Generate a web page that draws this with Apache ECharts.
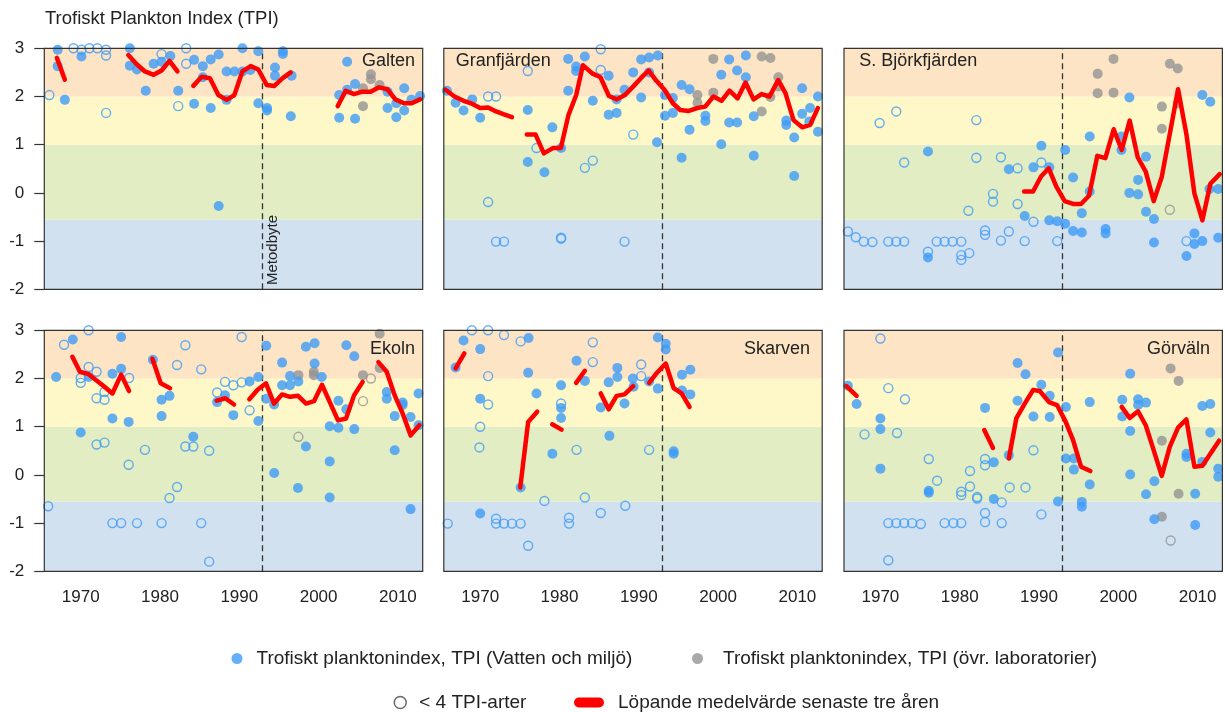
<!DOCTYPE html>
<html><head><meta charset="utf-8">
<script src="https://cdn.jsdelivr.net/npm/echarts@6/dist/echarts.min.js"></script>
<style>html,body{margin:0;padding:0;background:#fff}#c{width:1225px;height:712px}</style>
</head><body><div id="c"></div>
<script>
// ---------- tick labels / thresholds ----------
const tickYears = [1966,1971,1976,1981,1986,1991,1996,2001,2006,2011];
const labelYears = [1970,1980,1990,2000,2010];
const bandLimits = [-2,-0.55,1,2,3];
const metodbyteYear = 1992.95;

// ---------- Galten ----------
const galtenBlue = [[1967.1,2.97],[1967.1,2.63],[1968.0,1.93],[1970.1,2.83],[1976.2,3.0],[1976.2,2.64],[1977.1,2.56],[1978.2,2.12],[1979.2,2.68],[1980.2,2.72],[1981.3,2.84],[1982.3,2.12],[1984.3,2.76],[1984.3,1.85],[1985.4,2.63],[1985.4,2.40],[1986.4,2.77],[1986.4,1.76],[1987.4,2.87],[1987.4,-0.27],[1988.4,2.52],[1988.4,1.93],[1989.4,2.52],[1990.4,3.0],[1990.4,2.52],[1991.4,2.55],[1992.4,2.94],[1992.4,1.86],[1993.5,1.76],[1993.5,1.71],[1994.5,2.6],[1994.5,2.43],[1995.5,2.94],[1995.5,2.88],[1996.6,2.43],[1996.5,1.59],[2003.6,2.72],[2002.6,2.03],[2002.6,1.56],[2003.6,2.14],[2004.6,2.26],[2004.6,1.54],[2008.7,1.76],[2008.7,2.10],[2009.8,1.57],[2009.8,1.86],[2010.8,2.17],[2010.8,1.71],[2011.7,1.93],[2012.8,2.01]];
const galtenGray = [[2005.6,2.17],[2005.6,1.80],[2006.6,2.46],[2006.6,2.36],[2007.7,2.24]];
const galtenOpen = [[1966.05,2.03],[1969.1,3.0],[1970.1,2.97],[1971.1,3.0],[1972.1,3.0],[1973.2,2.97],[1973.2,2.85],[1973.2,1.66],[1980.2,2.88],[1983.3,3.0],[1983.3,2.68],[1982.3,1.80]];
const galtenOpenGray = [];
const galtenMean = [
  [[1967.0,2.80],[1968.0,2.35]],
  [[1976.0,2.86],[1977.06,2.67],[1978.1,2.52],[1979.2,2.45],[1980.2,2.54],[1981.2,2.74],[1982.2,2.52]],
  [[1984.2,2.22],[1985.26,2.41],[1986.3,2.38],[1987.36,2.03],[1988.41,1.93],[1989.38,2.03],[1990.39,2.52],[1991.44,2.63],[1992.4,2.56],[1993.45,2.24],[1994.42,2.22],[1995.47,2.38],[1996.48,2.5]],
  [[2002.41,1.80],[2003.42,2.12],[2004.47,2.05],[2005.52,2.10],[2006.57,2.10],[2007.62,2.19],[2008.67,2.15],[2009.68,1.94],[2010.77,1.86],[2011.74,1.86],[2012.79,1.94]]
];

// ---------- Granfjärden ----------
const granBlue = [[1965.8,2.12],[1966.9,1.87],[1967.9,1.71],[1969.0,1.94],[1970.0,1.56],[1976.0,1.72],[1976.0,0.64],[1978.1,0.43],[1979.1,1.36],[1980.2,0.93],[1981.1,2.78],[1981.1,2.12],[1982.1,2.62],[1982.1,2.53],[1983.2,2.83],[1984.2,1.91],[1986.2,2.43],[1986.2,1.62],[1987.2,1.66],[1987.2,1.94],[1988.2,2.14],[1989.3,2.50],[1990.3,2.77],[1990.3,1.98],[1991.3,2.81],[1991.3,2.50],[1992.4,2.85],[1992.3,1.05],[1993.3,2.03],[1993.3,1.60],[1994.3,1.97],[1994.3,1.66],[1995.4,2.24],[1995.4,0.73],[1996.4,2.15],[1996.4,1.31],[1998.4,1.60],[1998.4,1.49],[2000.4,2.45],[2000.4,1.01],[2001.4,2.77],[2001.4,1.46],[2002.4,1.46],[2002.4,2.54],[2003.5,2.85],[2003.5,2.40],[2004.5,1.59],[2004.5,0.77],[2008.6,1.50],[2008.6,1.41],[2009.6,1.15],[2009.6,0.35],[2010.6,2.17],[2010.6,1.64],[2011.6,1.76],[2011.5,1.48],[2012.6,2.00],[2012.6,1.27]];
const granGray = [[1997.4,2.03],[1997.4,1.87],[1999.4,2.78],[1999.4,2.08],[2005.5,2.83],[2006.6,2.80],[2005.5,1.69],[2007.6,2.40],[2007.6,2.21],[2006.6,1.99]];
const granOpen = [[1971.0,2.0],[1972.0,2.0],[1971.0,-0.19],[1972.0,-1.01],[1973.0,-1.01],[1976.0,2.53],[1977.1,0.93],[1980.2,-0.93],[1980.2,-0.95],[1983.2,0.52],[1984.2,0.67],[1985.2,2.98],[1985.2,2.55],[1988.2,-1.01],[1989.3,1.21]];
const granOpenGray = [];
const granMean = [
  [[1965.63,2.14],[1966.76,2.0],[1967.9,1.91],[1968.95,1.85],[1970.0,1.76],[1971.0,1.77],[1972.0,1.69],[1973.0,1.63],[1974.0,1.57]],
  [[1975.88,1.21],[1976.98,1.21],[1978.03,0.82],[1979.16,0.93],[1980.17,0.93],[1981.14,1.62],[1982.11,2.03],[1982.95,2.65],[1984.12,2.48],[1985.17,2.40],[1986.23,2.01],[1987.23,1.94],[1988.24,2.03],[1989.25,2.20],[1990.26,2.38],[1991.23,2.54],[1992.19,2.33],[1993.24,2.14],[1994.3,1.86],[1995.22,1.72],[1996.31,1.70],[1997.36,1.76],[1998.37,1.79],[1999.42,2.0],[2000.43,1.91],[2001.44,2.12],[2002.45,1.96],[2003.46,2.29],[2004.47,1.94],[2005.48,2.05],[2006.49,2.0],[2007.58,2.34],[2008.5,2.07],[2009.51,1.51],[2010.61,1.36],[2011.61,1.41],[2012.58,1.76]]
];

// ---------- S. Björkfjärden ----------
const bjorkBlue = [[1976.0,0.86],[1976.0,-1.34],[1986.2,0.49],[1988.2,-0.48],[1989.3,0.53],[1990.3,0.98],[1991.3,0.53],[1991.3,-0.57],[1992.3,-0.59],[1993.3,0.89],[1993.3,-0.64],[1994.3,0.32],[1994.3,-0.79],[1995.4,-0.82],[1995.4,-0.42],[1996.4,1.17],[1996.4,0.03],[1998.4,-0.75],[1998.4,-0.84],[2000.4,1.17],[2000.4,0.89],[2001.4,1.98],[2001.4,0.0],[2002.5,-0.03],[2002.5,0.27],[2003.5,0.75],[2003.5,-0.39],[2004.5,-0.54],[2004.5,-1.03],[2008.6,-1.31],[2009.6,-0.84],[2009.6,-1.06],[2010.6,-1.00],[2010.6,2.03],[2011.6,1.89],[2011.5,0.08],[2012.6,0.08],[2012.6,-0.93]];
const bjorkGray = [[1997.4,2.47],[1997.4,2.07],[1999.4,2.78],[1999.4,2.08],[2005.5,1.79],[2005.5,1.33],[2006.5,2.68],[2007.5,2.58],[2007.5,1.86]];
const bjorkOpen = [[1965.9,-0.80],[1966.9,-0.92],[1967.9,-1.01],[1969.0,-1.02],[1969.9,1.45],[1971.0,-1.01],[1972.0,-1.01],[1973.0,-1.01],[1972.0,1.69],[1973.0,0.63],[1976.0,-1.22],[1977.1,-1.01],[1978.1,-1.01],[1979.1,-1.01],[1980.2,-1.01],[1980.2,-1.29],[1980.2,-1.39],[1981.2,-1.25],[1981.1,-0.37],[1982.1,1.51],[1982.1,0.73],[1983.2,-0.78],[1983.2,-0.87],[1984.2,-0.02],[1984.2,-0.18],[1985.2,-0.99],[1985.2,0.74],[1986.2,-0.80],[1987.3,0.51],[1987.3,-0.23],[1988.2,-1.00],[1989.3,-0.60],[1990.3,0.63],[1992.3,-1.00],[2008.6,-1.00]];
const bjorkOpenGray = [[2006.5,-0.35]];
const bjorkMean = [
  [[1988.12,0.03],[1989.25,0.03],[1990.26,0.34],[1991.23,0.51],[1992.19,0.13],[1993.24,-0.17],[1994.3,-0.23],[1995.3,-0.23],[1996.31,-0.06],[1997.36,0.77],[1998.37,0.72],[1999.42,1.32],[2000.43,0.89],[2001.44,1.50],[2002.45,0.74],[2003.46,0.44],[2004.47,-0.17],[2005.48,0.33],[2006.49,1.22],[2007.54,2.15],[2008.59,1.22],[2009.6,-0.01],[2010.61,-0.57],[2011.61,0.19],[2012.79,0.39]]
];

// ---------- Ekoln ----------
const ekolnBlue = [[1966.9,2.03],[1969.0,2.81],[1970.0,0.88],[1971.0,2.03],[1974.0,2.10],[1974.0,1.17],[1975.1,2.86],[1975.1,2.20],[1976.05,1.10],[1979.1,2.39],[1980.2,1.56],[1980.2,1.22],[1981.2,1.64],[1984.2,0.79],[1987.2,1.51],[1988.2,1.65],[1989.25,1.24],[1991.3,1.94],[1992.4,2.03],[1992.4,1.12],[1993.4,2.68],[1993.4,1.58],[1994.4,1.46],[1994.4,0.04],[1995.4,2.33],[1995.4,1.86],[1996.4,2.05],[1996.4,1.86],[1997.45,1.94],[1998.4,0.59],[1997.4,-0.27],[1998.4,2.66],[1999.5,2.73],[1999.5,2.31],[2000.4,2.03],[2001.4,1.01],[2001.4,0.28],[2001.4,-0.47],[2002.5,1.54],[2002.5,0.98],[2003.5,2.69],[2003.5,1.36],[2004.5,2.46],[2004.5,0.95],[2008.6,1.72],[2008.6,1.58],[2009.6,1.22],[2009.6,0.51],[2010.6,1.50],[2010.6,1.45],[2011.6,1.20],[2011.6,-0.71],[2012.6,1.69],[2012.6,1.03]];
const ekolnGray = [[1997.45,2.07],[1999.4,2.14],[1999.4,2.07],[2005.6,2.07],[2007.7,2.93],[2007.7,2.22]];
const ekolnOpen = [[1965.9,-0.65],[1967.9,2.70],[1970.0,2.01],[1970.0,1.91],[1971.0,3.0],[1971.0,2.24],[1972.0,2.14],[1972.0,1.59],[1973.0,1.56],[1973.0,1.72],[1972.0,0.63],[1973.0,0.67],[1974.0,-1.0],[1975.1,-1.0],[1976.1,2.01],[1976.05,0.21],[1977.1,-1.0],[1978.1,0.52],[1980.2,-1.0],[1981.2,-0.48],[1982.15,2.28],[1982.15,-0.25],[1983.2,2.69],[1983.2,0.59],[1984.2,0.59],[1985.2,2.19],[1985.2,-1.0],[1986.2,0.50],[1986.2,-1.8],[1987.2,1.71],[1988.2,1.93],[1989.25,1.86],[1990.3,1.92],[1990.3,2.86],[1991.3,1.34]];
const ekolnOpenGray = [[1997.45,0.79],[2005.6,1.53],[2006.6,2.0]];
const ekolnMean = [
  [[1968.95,2.45],[1969.9,2.14],[1971.0,2.09],[1972.0,1.96],[1973.0,1.83],[1974.0,1.69],[1975.1,2.08],[1976.1,1.74]],
  [[1979.04,2.41],[1980.09,1.90],[1981.27,1.80]],
  [[1987.15,1.54],[1988.24,1.59],[1989.34,1.46]],
  [[1991.27,1.57],[1992.28,1.76],[1993.37,1.90],[1994.38,1.48],[1995.39,1.67],[1996.4,1.62],[1997.41,1.64],[1998.42,1.48],[1999.42,1.53],[2000.43,1.87],[2001.44,1.50],[2002.45,1.13],[2003.46,1.17],[2004.47,1.65],[2005.56,1.93]],
  [[2007.54,2.34],[2008.59,2.14],[2009.6,1.65],[2010.61,1.27],[2011.61,0.82],[2012.71,1.03]]
];

// ---------- Skarven ----------
const skarvenBlue = [[1966.9,2.23],[1967.9,2.79],[1970.0,2.61],[1970.0,1.58],[1970.0,-0.80],[1976.1,2.84],[1976.05,2.12],[1975.1,-0.26],[1977.1,1.69],[1979.1,0.44],[1980.2,1.86],[1980.2,1.39],[1980.2,1.18],[1982.15,2.37],[1983.2,1.95],[1985.2,1.40],[1986.2,1.92],[1986.3,0.81],[1987.3,2.22],[1987.3,2.03],[1988.2,1.48],[1989.25,2.0],[1989.34,1.83],[1991.3,1.94],[1992.4,2.85],[1992.4,1.79],[1993.4,2.72],[1993.4,2.60],[1994.4,0.49],[1994.4,0.44],[1995.45,1.75],[1995.45,2.08],[1996.5,2.18],[1996.5,1.67]];
const skarvenGray = [];
const skarvenOpen = [[1965.9,-1.01],[1968.95,3.0],[1971.0,3.0],[1971.0,2.05],[1971.0,1.46],[1970.0,1.0],[1969.9,0.57],[1972.0,-0.91],[1972.0,-1.01],[1973.0,-1.01],[1974.0,-1.01],[1975.1,-1.01],[1973.0,2.90],[1975.1,2.77],[1976.05,-1.47],[1978.1,-0.54],[1980.2,1.48],[1981.2,-0.89],[1981.2,-1.01],[1982.15,0.52],[1984.2,2.75],[1984.2,2.34],[1983.2,-0.47],[1985.2,-0.79],[1988.3,-0.64],[1990.3,2.29],[1990.3,2.05],[1991.3,0.52]];
const skarvenOpenGray = [];
const skarvenMean = [
  [[1966.9,2.21],[1968.0,2.52]],
  [[1975.05,-0.26],[1976.05,1.10],[1977.19,1.31]],
  [[1979.08,1.05],[1980.26,0.94]],
  [[1982.1,1.91],[1983.2,2.16]],
  [[1985.2,1.69],[1986.2,1.36],[1987.2,1.64],[1988.2,1.67],[1989.3,1.84]],
  [[1991.3,1.91],[1992.3,2.12],[1993.4,2.31],[1994.4,1.80],[1995.4,1.69],[1996.4,1.41]]
];

// ---------- Görväln ----------
const gorvBlue = [[1965.9,1.85],[1967.0,1.47],[1970.0,1.17],[1970.0,0.95],[1970.0,0.13],[1976.1,-0.33],[1976.1,-0.37],[1983.2,1.39],[1984.3,0.26],[1984.3,-0.50],[1986.2,0.41],[1987.3,2.32],[1987.3,1.54],[1988.3,2.09],[1989.3,1.21],[1990.3,1.87],[1991.35,1.64],[1991.35,1.20],[1992.4,2.54],[1992.4,-0.55],[1993.4,1.41],[1993.4,0.34],[1994.4,0.34],[1994.4,0.11],[1995.4,-0.56],[1995.4,-0.66],[1996.4,1.51],[1996.4,-0.20],[2000.5,1.56],[2000.5,1.21],[2001.5,2.10],[2001.5,0.91],[2001.5,0.01],[2002.5,1.57],[2002.5,1.45],[2003.5,1.50],[2003.5,-0.40],[2004.55,-0.13],[2004.55,-0.92],[2008.6,0.44],[2008.6,0.37],[2009.7,-0.39],[2009.7,-1.04],[2010.6,1.43],[2011.6,1.47],[2010.6,0.27],[2011.6,0.88],[2012.6,0.13],[2012.6,-0.04]];
const gorvGray = [[2005.5,0.71],[2005.5,-0.87],[2006.6,2.21],[2007.6,1.95],[2007.6,-0.39]];
const gorvOpen = [[1968.0,0.84],[1970.0,2.83],[1971.0,1.80],[1972.1,0.87],[1971.0,-1.0],[1972.0,-1.0],[1973.0,-1.0],[1974.0,-1.0],[1975.1,-1.02],[1971.0,-1.77],[1973.1,1.57],[1976.1,0.33],[1977.15,-0.12],[1978.1,-1.0],[1979.2,-1.0],[1980.2,-1.0],[1980.2,-0.35],[1980.2,-0.42],[1981.3,0.08],[1981.3,-0.24],[1982.2,-0.46],[1982.2,-0.49],[1983.2,0.33],[1983.2,0.20],[1983.2,-0.79],[1983.2,-0.98],[1985.3,-0.57],[1985.3,-1.0],[1986.3,-0.26],[1988.3,-0.26],[1989.3,0.51],[1990.3,-0.82]];
const gorvOpenGray = [[2006.6,-1.36]];
const gorvMean = [
  [[1965.71,1.84],[1967.0,1.64]],
  [[1983.1,0.93],[1984.2,0.56]],
  [[1986.2,0.34],[1987.15,1.18],[1988.24,1.49],[1989.25,1.76],[1990.1,1.74],[1991.27,1.51],[1992.28,1.45],[1993.37,1.10],[1994.3,0.72],[1995.3,0.17],[1996.48,0.08]],
  [[2000.43,1.41],[2001.44,1.18],[2002.49,1.32],[2003.46,1.03],[2004.47,0.51],[2005.48,-0.02],[2006.49,0.58],[2007.54,0.98],[2008.59,1.15],[2009.6,0.17],[2010.61,0.19],[2011.61,0.44],[2012.71,0.71]]
];

// ---------- names ----------
const panelNames = ['Galten','Granfjärden','S. Björkfjärden','Ekoln','Skarven','Görväln'];
const nBlue = 'Trofiskt planktonindex, TPI (Vatten och miljö)';
const nGray = 'Trofiskt planktonindex, TPI (övr. laboratorier)';
const nOpen = '< 4 TPI-arter';
const nMean = 'Löpande medelvärde senaste tre åren';

// ---------- build ----------
const panelData = [
  [galtenBlue, galtenGray, galtenOpen, galtenOpenGray, galtenMean],
  [granBlue, granGray, granOpen, granOpenGray, granMean],
  [bjorkBlue, bjorkGray, bjorkOpen, bjorkOpenGray, bjorkMean],
  [ekolnBlue, ekolnGray, ekolnOpen, ekolnOpenGray, ekolnMean],
  [skarvenBlue, skarvenGray, skarvenOpen, skarvenOpenGray, skarvenMean],
  [gorvBlue, gorvGray, gorvOpen, gorvOpenGray, gorvMean]
];

const FONT = "'Liberation Sans', Arial, Helvetica, sans-serif";
const BLUE = '#3d9bf7', GRAY = '#939393', RED = '#ff0000';
const bandColors = ['#d2e1f0','#e3edc4','#fef8c8','#fde4c4'];
const gridLefts = [44.3, 443.8, 844];
const gridTops = [48.3, 330.3];
const GW = 378.4, GH = 241;

const grids = [], xAxes = [], yAxes = [], series = [], graphics = [];

for (let i = 0; i < 6; i++) {
  const row = Math.floor(i / 3), col = i % 3;
  grids.push({left: gridLefts[col], top: gridTops[row], width: GW, height: GH,
    show: true, borderColor: '#333', borderWidth: 1.2, backgroundColor: 'transparent', z: 6});
  xAxes.push({gridIndex: i, type: 'value', min: 1965.41, max: 2013.13,
    axisLine: {show: false}, splitLine: {show: false},
    axisTick: {show: true, length: 10, lineStyle: {color: '#333', width: 1.2}, customValues: tickYears},
    axisLabel: {show: row === 1, customValues: labelYears, margin: 18, fontSize: 17, color: '#222', fontFamily: FONT,
      formatter: v => String(v)}
  });
  yAxes.push({gridIndex: i, type: 'value', min: -2, max: 3, interval: 1,
    axisLine: {show: false}, splitLine: {show: false},
    axisTick: {show: col === 0, length: 10, lineStyle: {color: '#333', width: 1.2}},
    axisLabel: {show: col === 0, margin: 20, fontSize: 17, color: '#222', fontFamily: FONT}
  });
  const [blue, gray, open, openGray, mean] = panelData[i];
  series.push({type: 'scatter', xAxisIndex: i, yAxisIndex: i, data: [], silent: true, z: 1,
    markArea: {silent: true, z: 1, data: bandColors.map((c, k) => [
      {yAxis: bandLimits[k], itemStyle: {color: c, borderWidth: 0}}, {yAxis: bandLimits[k + 1]}])},
    markLine: {silent: true, z: 2, symbol: ['none', 'none'], label: {show: false},
      lineStyle: {color: '#333', width: 1.3, type: [6, 4]}, data: [{xAxis: metodbyteYear}]}
  });
  series.push({name: nOpen, type: 'scatter', xAxisIndex: i, yAxisIndex: i, data: open, symbol: 'circle', symbolSize: 9,
    itemStyle: {color: 'rgba(0,0,0,0)', borderColor: BLUE, borderWidth: 1.4}, z: 3, emphasis: {disabled: true}});
  series.push({name: nOpen, type: 'scatter', xAxisIndex: i, yAxisIndex: i, data: openGray, symbol: 'circle', symbolSize: 9,
    itemStyle: {color: 'rgba(0,0,0,0)', borderColor: GRAY, borderWidth: 1.4}, z: 3, emphasis: {disabled: true}});
  series.push({name: nGray, type: 'scatter', xAxisIndex: i, yAxisIndex: i, data: gray, symbol: 'circle', symbolSize: 10,
    itemStyle: {color: GRAY}, z: 3, emphasis: {disabled: true}});
  series.push({name: nBlue, type: 'scatter', xAxisIndex: i, yAxisIndex: i, data: blue, symbol: 'circle', symbolSize: 10,
    itemStyle: {color: BLUE}, z: 4, emphasis: {disabled: true}});
  mean.forEach(seg => {
    series.push({name: nMean, type: 'line', xAxisIndex: i, yAxisIndex: i, data: seg, symbol: 'none', showSymbol: false,
      color: RED, itemStyle: {color: RED}, lineStyle: {color: RED, width: 4.5, cap: 'round', join: 'round'}, z: 5,
      emphasis: {disabled: true}, clip: false});
  });
}

// panel names
const nameSpecs = [
  {x: 415, y: 61, align: 'right'}, {x: 455.7, y: 61, align: 'left'}, {x: 859.3, y: 61, align: 'left'},
  {x: 415, y: 349, align: 'right'}, {x: 810, y: 349, align: 'right'}, {x: 1210, y: 349, align: 'right'}
];
nameSpecs.forEach((s, i) => graphics.push({type: 'text', x: s.x, y: s.y, z: 20,
  style: {text: panelNames[i], font: '18px ' + FONT, fill: '#222', textAlign: s.align, textVerticalAlign: 'middle'}}));
graphics.push({type: 'text', x: 273, y: 285, rotation: Math.PI / 2, z: 20,
  style: {text: 'Metodbyte', font: '15px ' + FONT, fill: '#222', textAlign: 'left', textVerticalAlign: 'middle'}});

const legTS = {fontSize: 19, color: '#222', fontFamily: FONT};
const option = {
  animation: false,
  backgroundColor: '#fff',
  title: {text: 'Trofiskt Plankton Index (TPI)', left: 45, top: 9, padding: 0,
    textStyle: {fontSize: 18.5, fontWeight: 'normal', color: '#222', fontFamily: FONT}},
  grid: grids, xAxis: xAxes, yAxis: yAxes, series: series, graphic: graphics,
  legend: [
    {selectedMode: false, left: 231.5, top: 649, itemWidth: 11, itemHeight: 11, padding: 0,
      textStyle: Object.assign({padding: [0, 0, 0, 9]}, legTS),
      data: [{name: nBlue, icon: 'circle', itemStyle: {color: BLUE}}]},
    {selectedMode: false, left: 692, top: 649, itemWidth: 11, itemHeight: 11, padding: 0,
      textStyle: Object.assign({padding: [0, 0, 0, 15]}, legTS),
      data: [{name: nGray, icon: 'circle', itemStyle: {color: GRAY}}]},
    {selectedMode: false, left: 393.5, top: 693, itemWidth: 12, itemHeight: 12, padding: 0,
      textStyle: Object.assign({padding: [0, 0, 0, 8]}, legTS),
      data: [{name: nOpen, icon: 'circle', itemStyle: {color: 'rgba(0,0,0,0)', borderColor: '#444', borderWidth: 1.5}}]},
    {selectedMode: false, left: 574, top: 693, itemWidth: 30, itemHeight: 10, padding: 0,
      textStyle: Object.assign({padding: [0, 0, 0, 9]}, legTS),
      data: [{name: nMean, icon: 'path://M5,0H25A5,5,0,0,1,25,10H5A5,5,0,0,1,5,0Z', itemStyle: {color: RED}}]}
  ]
};

const chart = echarts.init(document.getElementById('c'), null, {renderer: 'canvas'});
chart.setOption(option);
</script>
</body></html>
